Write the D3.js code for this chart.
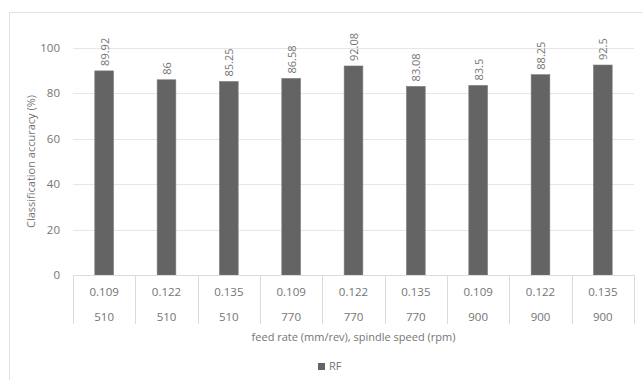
<!DOCTYPE html>
<html><head><meta charset="utf-8">
<script src="https://cdn.jsdelivr.net/npm/d3@7"></script>
<style>
body{margin:0;background:#fff;}
svg text{font-family:"Open Sans","Liberation Sans",sans-serif;fill:#747474;}
</style></head>
<body><svg id="c" width="642" height="380"></svg>
<script>
const feedRates = ["0.109","0.122","0.135","0.109","0.122","0.135","0.109","0.122","0.135"];
const spindleSpeeds = ["510","510","510","770","770","770","900","900","900"];
const rfValues = [89.92, 86, 85.25, 86.58, 92.08, 83.08, 83.5, 88.25, 92.5];
const yTicks = [0, 20, 40, 60, 80, 100];
const seriesName = "RF";
const xTitle = "feed rate (mm/rev), spindle speed (rpm)";
const yTitle = "Classification accuracy (%)";

const svg = d3.select("#c");
const pL = 73, pR = 634, pT = 48, pB = 275;
const idx = d3.range(rfValues.length);
const x = d3.scaleBand().domain(idx).range([pL, pR]).padding(0);
const y = d3.scaleLinear().domain([0, 100]).range([pB, pT]);

// outer chart border (clipped at right/bottom)
svg.append("rect").attr("x", 9.5).attr("y", 12.5).attr("width", 700).attr("height", 400)
  .attr("fill", "none").attr("stroke", "#e2e2e2").attr("stroke-width", 1);

// gridlines
svg.append("g").selectAll("line").data(yTicks.filter(d => d > 0)).join("line")
  .attr("x1", pL).attr("x2", pR)
  .attr("y1", d => Math.round(y(d)) + 0.5).attr("y2", d => Math.round(y(d)) + 0.5)
  .attr("stroke", "#e6e6e6").attr("stroke-width", 1);

// y tick labels
svg.append("g").selectAll("text").data(yTicks).join("text")
  .attr("x", pL - 13).attr("y", d => y(d)).attr("dy", "0.35em")
  .attr("text-anchor", "end").attr("font-size", 11.5).text(d => d);

// bars
const bw = x.bandwidth() * 0.3;
svg.append("g").selectAll("rect").data(idx).join("rect")
  .attr("x", i => x(i) + (x.bandwidth() - bw) / 2)
  .attr("y", i => y(rfValues[i]))
  .attr("width", bw).attr("height", i => y(0) - y(rfValues[i]))
  .attr("fill", "#646464").attr("stroke", "#7a7a7a").attr("stroke-width", 0.6);

// value labels
svg.append("g").selectAll("text").data(idx).join("text")
  .attr("transform", i => `translate(${x(i) + x.bandwidth() / 2 + 0.5},${y(rfValues[i]) - 5}) rotate(-90)`)
  .attr("dy", "0.35em").attr("text-anchor", "start").attr("font-size", 11)
  .text(i => rfValues[i]);

// axis baseline and separators
svg.append("line").attr("x1", pL).attr("x2", pR).attr("y1", pB + 0.5).attr("y2", pB + 0.5)
  .attr("stroke", "#dcdcdc");
const edges = idx.map(i => x(i)).concat([pR]);
svg.append("g").selectAll("line").data(edges).join("line")
  .attr("x1", d => Math.round(d) + 0.5).attr("x2", d => Math.round(d) + 0.5)
  .attr("y1", pB).attr("y2", 324).attr("stroke", "#dcdcdc");

// category labels
svg.append("g").selectAll("text").data(idx).join("text")
  .attr("x", i => x(i) + x.bandwidth() / 2).attr("y", 292).attr("dy", "0.35em")
  .attr("text-anchor", "middle").attr("font-size", 11.5).text(i => feedRates[i]);
svg.append("g").selectAll("text").data(idx).join("text")
  .attr("x", i => x(i) + x.bandwidth() / 2).attr("y", 317).attr("dy", "0.35em")
  .attr("text-anchor", "middle").attr("font-size", 11.5).text(i => spindleSpeeds[i]);

// axis titles
svg.append("text").attr("x", (pL + pR) / 2).attr("y", 337).attr("dy", "0.35em")
  .attr("text-anchor", "middle").attr("font-size", 11).text(xTitle);
svg.append("text").attr("transform", `translate(31,${(pT + pB) / 2}) rotate(-90)`)
  .attr("dy", "0.35em").attr("text-anchor", "middle").attr("font-size", 11).text(yTitle);

// legend
svg.append("rect").attr("x", 318).attr("y", 363).attr("width", 7).attr("height", 7).attr("fill", "#646464");
svg.append("text").attr("x", 329).attr("y", 366.5).attr("dy", "0.35em").attr("font-size", 11).text(seriesName);
</script></body></html>
